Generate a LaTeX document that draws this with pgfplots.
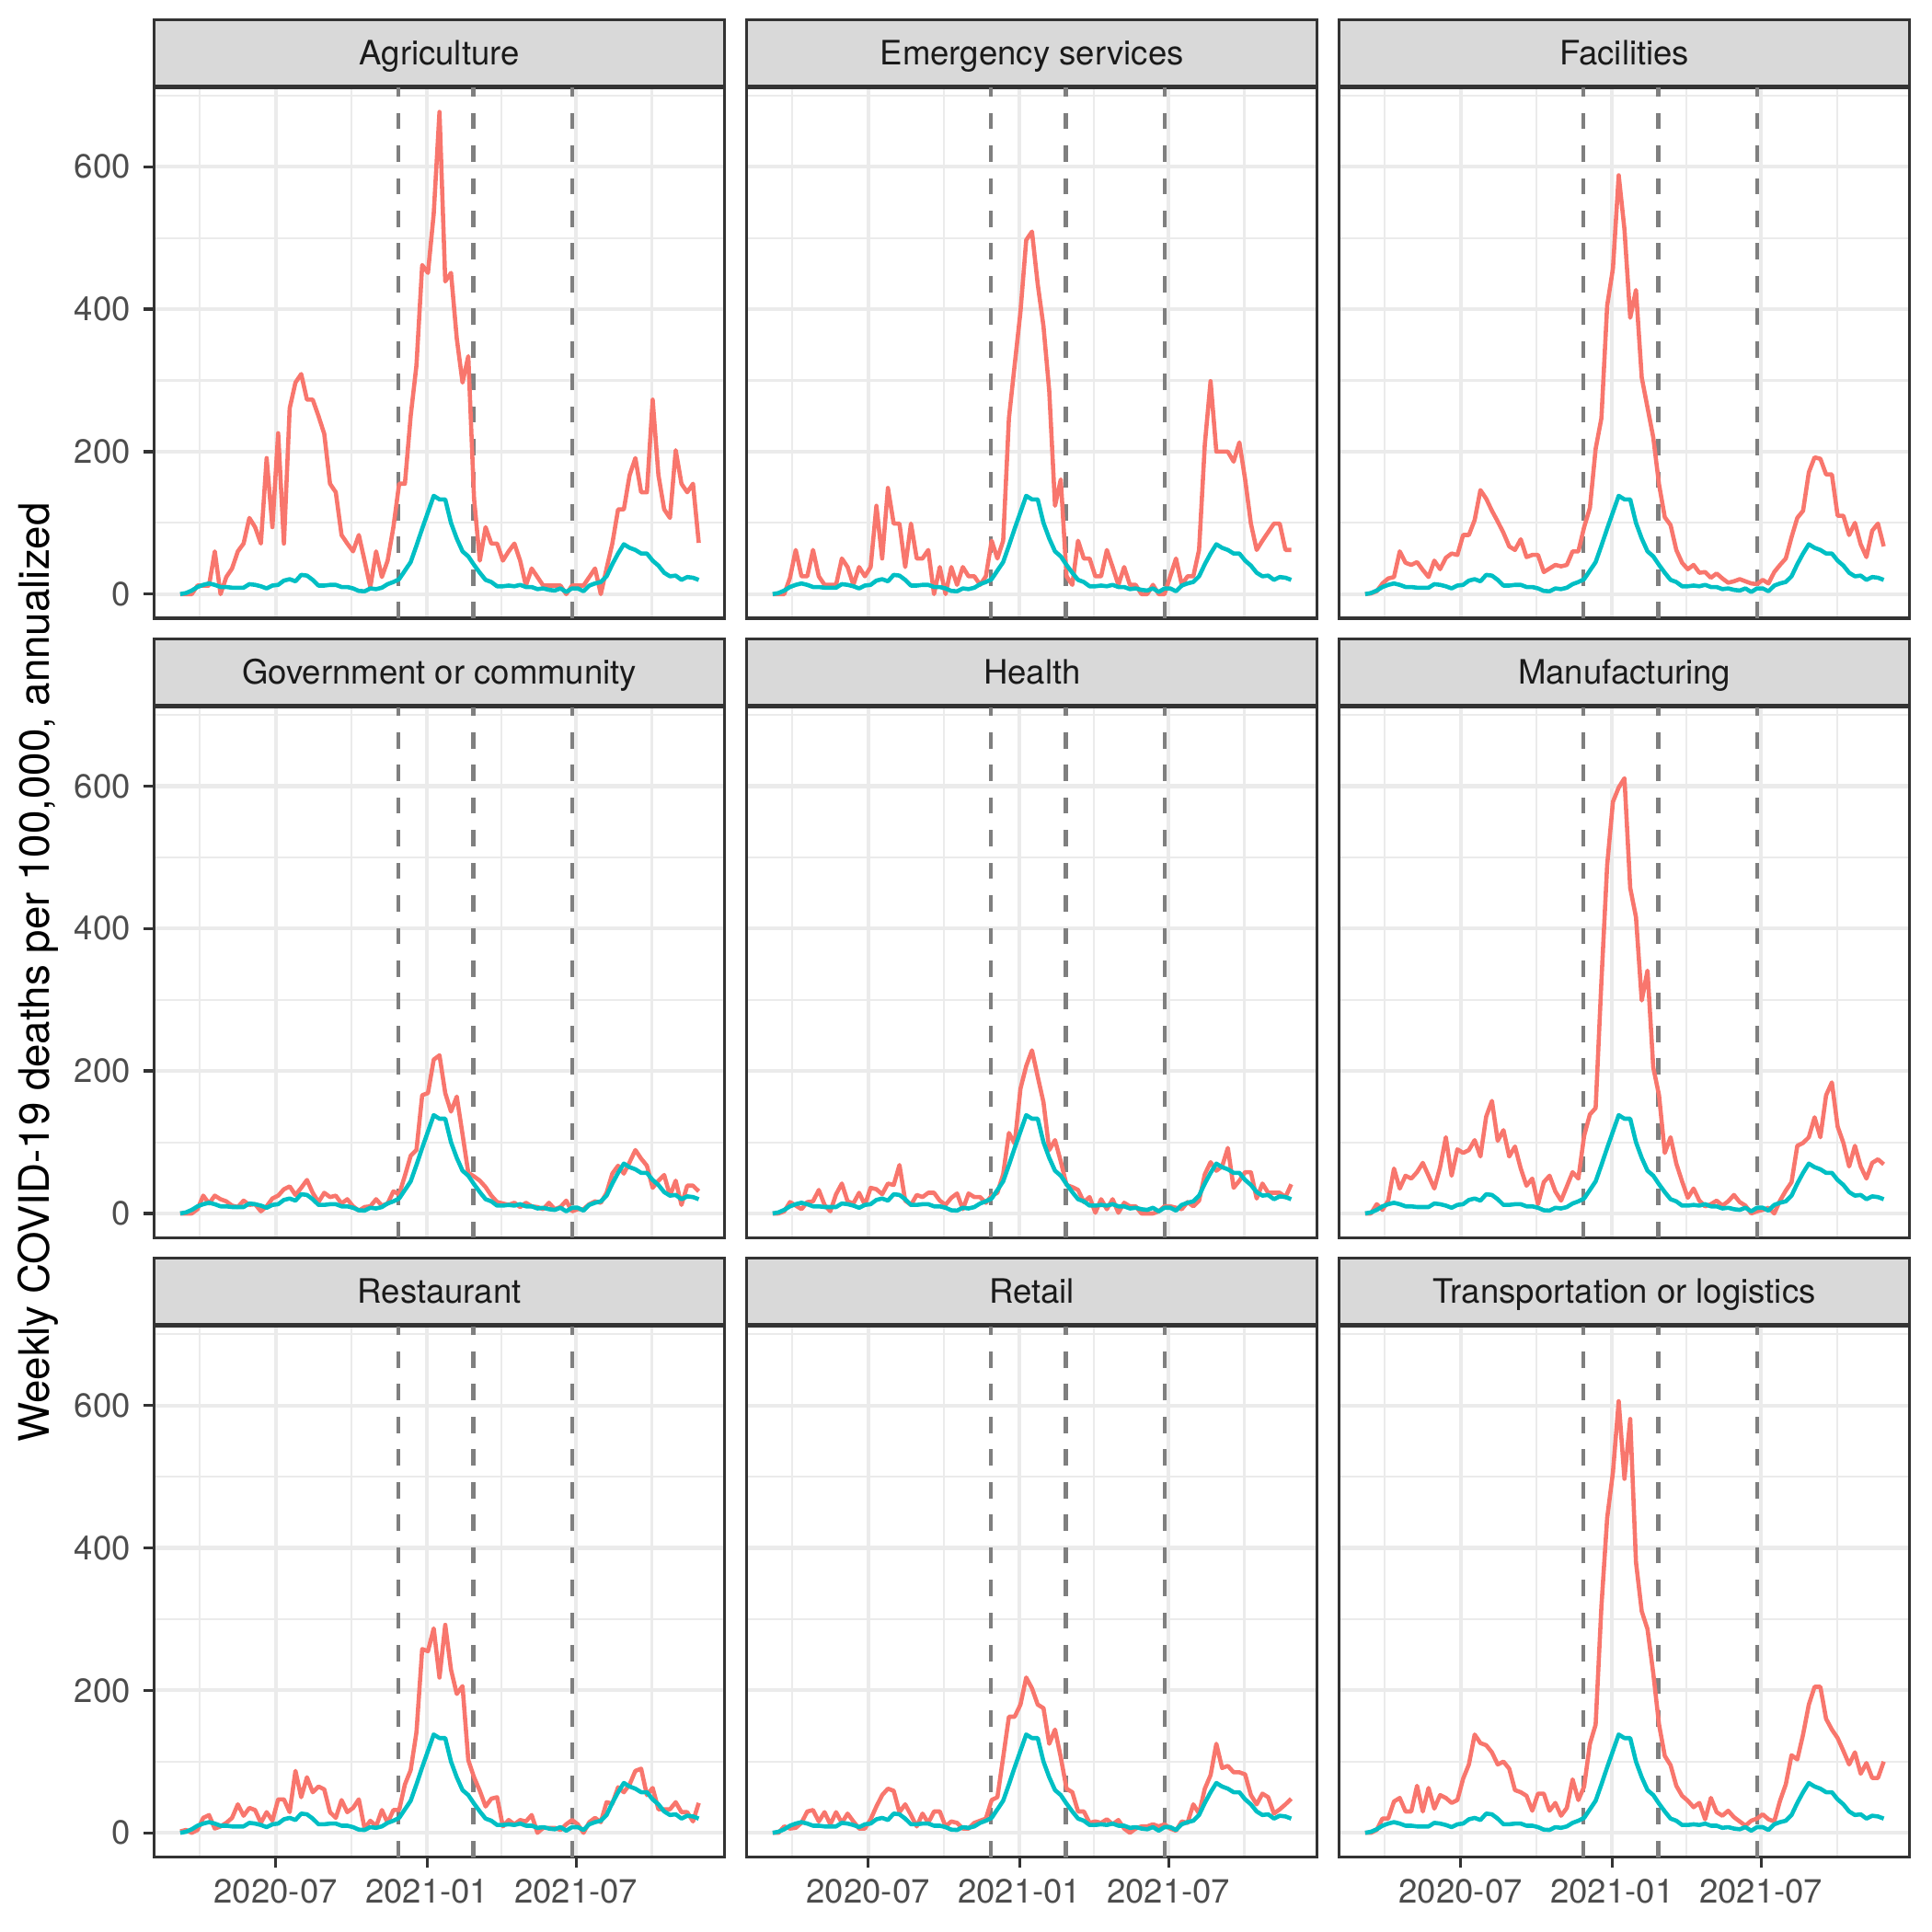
\documentclass[border=0pt]{standalone}
\usepackage{fontspec}
\setmainfont{TeX Gyre Heros}
\usepackage{pgfplots}
\pgfplotsset{compat=1.18}
\usepackage{pgfplotstable}
\definecolor{redline}{HTML}{F8766D}
\definecolor{tealline}{HTML}{00BFC4}
\definecolor{grey20}{HTML}{333333}
\definecolor{grey30}{HTML}{4D4D4D}
\definecolor{grey85}{HTML}{D9D9D9}
\definecolor{grey92}{HTML}{EBEBEB}
\definecolor{grey10}{HTML}{1A1A1A}
\definecolor{vl}{HTML}{7F7F7F}

\pgfplotstableread{
w teal ag em fa go he ma re rt tr
0 0 0 0 0 0 0 0 2 0 0
1 1.5 0 0 1 0 0 0 4 0 0
2 5 0 0 4 0 3 13 0 9 4
3 10 12 23 15 6 16 5 4 6 20
4 13 12 62 22 25 11 18 21 7 20
5 15 12 25 24 14 6 63 25 14 44
6 13 60 25 60 25 16 35 6 30 49
7 10 0 62 44 20 17 53 9 32 30
8 10 24 25 41 17 33 49 14 16 30
9 9 36 13 45 11 12 58 21 29 66
10 9 60 13 34 9 3 71 40 12 30
11 9 71 13 24 18 27 53 24 29 63
12 14 107 50 47 12 42 35 35 14 34
13 13 94 38 35 13 17 65 32 27 53
14 11 71 13 51 3 14 107 14 16 49
15 8 191 38 57 10 29 53 29 6 42
16 12 94 25 55 21 12 90 17 6 46
17 13 226 38 83 25 36 85 47 19 76
18 19 71 124 83 34 34 89 47 37 96
19 21 261 50 104 38 27 103 29 53 138
20 18 297 149 146 26 42 80 87 62 126
21 27 309 99 134 36 40 136 50 59 123
22 26 273 99 117 47 68 158 78 29 113
23 20 273 38 102 29 18 102 57 40 96
24 12 250 99 86 16 12 117 65 25 100
25 12 225 50 67 29 26 80 61 9 90
26 13 155 50 62 23 23 94 29 27 60
27 13 143 62 77 25 29 63 21 14 57
28 10 83 0 52 14 29 39 46 30 52
29 10 71 38 55 20 18 49 29 30 31
30 8 60 0 55 10 12 13 35 9 55
31 4.5 83 38 31 4 22 44 47 16 55
32 4 47 13 36 9 28 53 6 14 31
33 8 10 38 41 10 6 31 17 6 42
34 7 60 25 39 20 28 18 9 6 24
35 9 24 25 41 11 23 38 32 14 35
36 14 47 13 60 14 23 58 14 17 75
37 17 94 25 60 31 15 49 32 20 46
38 21 155 75 94 27 25 109 32 46 65
39 33 155 50 121 53 29 139 68 50 125
40 45 250 75 204 81 55 148 88 106 152
41 68 321 247 247 89 113 326 141 163 318
42 92 462 322 405 166 98 489 258 163 442
43 115 451 396 457 169 175 578 255 180 506
44 138 534 497 588 216 207 598 287 218 606
45 133 677 509 512 222 229 611 218 203 497
46 133 439 435 388 169 192 457 292 180 581
47 100 451 376 427 143 156 416 229 175 380
48 78 359 285 304 164 89 299 195 125 311
49 60 297 124 262 111 103 341 206 145 286
50 53 334 161 220 57 73 205 102 106 224
51 41 134 25 154 52 40 166 78 62 152
52 30 47 13 108 46 37 85 59 57 108
53 20 94 75 97 37 33 107 37 30 95
54 17 71 50 62 25 16 70 48 30 66
55 11 71 50 44 16 23 45 50 14 52
56 11 47 25 35 14 1 22 9 16 45
57 12 60 25 41 12 20 35 18 14 36
58 11 71 62 30 15 6 18 12 19 42
59 13 47 38 31 9 20 10 18 12 19
60 10 12 13 23 15 1 13 16 18 49
61 10 36 38 29 10 15 18 25 6 29
62 7 24 13 22 9 10 11 0 0 24
63 8 12 13 16 6 10 17 7 6 31
64 6 12 0 18 15 0 26 7 9 22
65 5 12 0 21 6 0 16 7 9 16
66 8 12 13 18 9 0 11 4 12 10
67 3 0 0 15 18 3 0 12 9 17
68 8 12 0 14 3 10 3 18 12 20
69 8 12 25 20 6 10 5 12 6 26
70 4 12 50 15 6 8 8 0 3 19
71 12 24 13 31 13 6 0 15 16 16
72 15 36 25 41 17 16 18 21 14 45
73 17 0 25 50 15 10 32 15 40 68
74 25 36 62 80 29 18 44 43 27 109
75 42 71 210 107 56 55 95 41 62 103
76 57 119 299 117 67 72 99 64 81 138
77 70 119 200 171 56 60 107 57 125 180
78 65 167 200 192 72 66 135 68 91 205
79 62 191 200 190 89 92 107 87 94 205
80 57 143 186 168 77 36 166 90 85 160
81 57 143 213 168 67 46 184 53 85 145
82 47 273 161 110 36 58 122 63 82 133
83 40 167 99 110 46 58 99 33 53 115
84 30 119 62 83 54 21 66 33 40 96
85 25 107 75 100 25 42 95 33 55 113
86 26 202 87 70 46 29 66 43 50 83
87 20 155 99 52 12 29 49 29 27 98
88 24 143 99 89 39 29 71 29 33 77
89 23 155 62 99 39 23 76 16 40 77
90 20 72 62 67 31 41 69 42 48 100
}\data

\pgfplotsset{
  panel/.style={
    scale only axis, width=149.36pt, height=138.95pt,
    anchor=north west,
    xmin=-4.5, xmax=94.5, ymin=-34, ymax=711,
    xtick={16.571,42.857,68.714},
    minor xtick={3.3,29.714,55.786,81.857},
    ytick={0,200,400,600},
    minor ytick={100,300,500,700},
    grid=both,
    major grid style={grey92, line width=1.0pt},
    minor grid style={grey92, line width=0.5pt},
    axis line style={grey20, line width=0.8pt},
    tick align=outside, tick pos=left,
    major tick length=2.75pt, minor tick length=0pt,
    tick style={grey20, line width=0.8pt},
    xticklabels={}, yticklabels={},
    /pgf/number format/assume math mode=true,
    ticklabel style={font=\fontsize{8.8}{10}\selectfont, text=grey30},
    xticklabel style={yshift=0.6pt},
    every axis title/.style={at={(0.5,1)}, anchor=south, draw=grey20, fill=grey85,
      line width=0.8pt, minimum width=149.36pt, minimum height=17.44pt, inner sep=0pt,
      text height=6.3pt, text depth=0pt,
      text=grey10, font=\fontsize{8.8}{10}\selectfont},
    every axis plot/.append style={line join=round},
  },
  noy/.style={ytick style={draw=none}},
  nox/.style={xtick style={draw=none}},
  withy/.style={yticklabels={0,200,400,600}},
  withx/.style={xticklabels={2020-07,2021-01,2021-07}},
  vline/.style={vl, line width=1.07pt, dash pattern=on 4.27pt off 4.27pt},
}

\newcommand\panelbody[1]{%
  \addplot[vline] coordinates {(37.9,-34) (37.9,711)};
  \addplot[vline] coordinates {(50.9,-34) (50.9,711)};
  \addplot[vline] coordinates {(68.0,-34) (68.0,711)};
  \addplot[redline, line width=1.1pt] table[x=w,y=#1]{\data};
  \addplot[tealline, line width=1.1pt] table[x=w,y=teal]{\data};
}

\begin{document}
\begin{tikzpicture}
\useasboundingbox (0,0) rectangle (505.89pt,-505.89pt);

\begin{axis}[panel, at={(40.40pt,-22.96pt)}, title={Agriculture}, withy, nox]
\panelbody{ag}
\end{axis}
\begin{axis}[panel, at={(195.54pt,-22.96pt)}, title={Emergency services}, noy, nox]
\panelbody{em}
\end{axis}
\begin{axis}[panel, at={(350.68pt,-22.96pt)}, title={Facilities}, noy, nox]
\panelbody{fa}
\end{axis}

\begin{axis}[panel, at={(40.40pt,-185.13pt)}, title={Government or community}, withy, nox]
\panelbody{go}
\end{axis}
\begin{axis}[panel, at={(195.54pt,-185.13pt)}, title={Health}, noy, nox]
\panelbody{he}
\end{axis}
\begin{axis}[panel, at={(350.68pt,-185.13pt)}, title={Manufacturing}, noy, nox]
\panelbody{ma}
\end{axis}

\begin{axis}[panel, at={(40.40pt,-347.31pt)}, title={Restaurant}, withy, withx]
\panelbody{re}
\end{axis}
\begin{axis}[panel, at={(195.54pt,-347.31pt)}, title={Retail}, noy, withx]
\panelbody{rt}
\end{axis}
\begin{axis}[panel, at={(350.68pt,-347.31pt)}, title={Transportation or logistics}, noy, withx]
\panelbody{tr}
\end{axis}

\node[rotate=90, font=\fontsize{11}{13}\selectfont, text=black] at (10.0pt,-254.6pt) {Weekly COVID-19 deaths per 100,000, annualized};
\end{tikzpicture}
\end{document}
